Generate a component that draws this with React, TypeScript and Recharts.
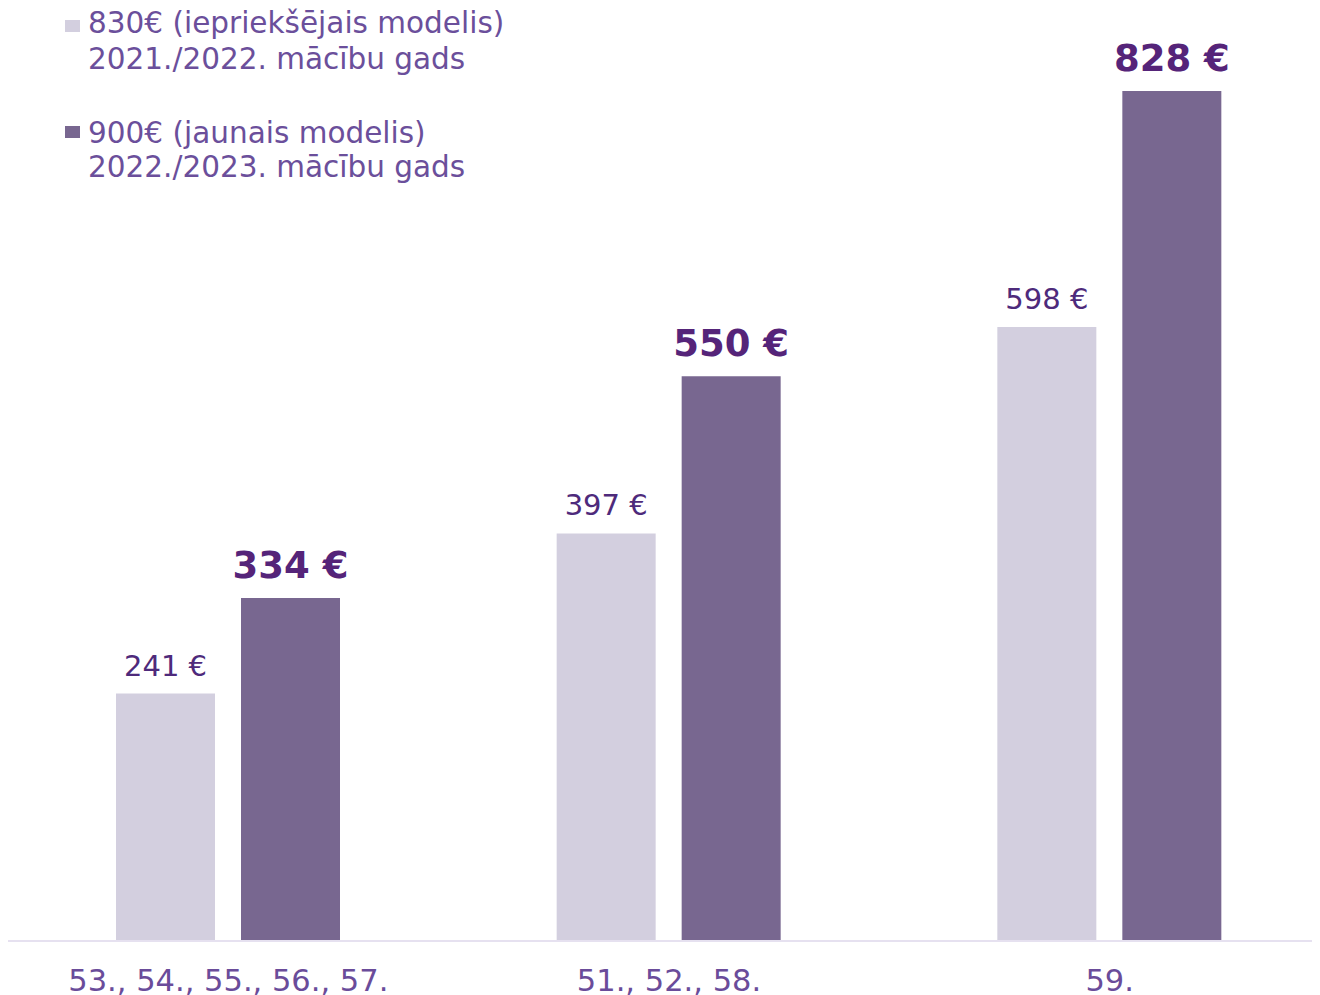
import React from "react";
import { BarChart, Bar, XAxis, YAxis, LabelList, Legend } from "recharts";

const categories = ["53., 54., 55., 56., 57.", "51., 52., 58.", "59."];
const prevModel = [241, 397, 598];
const newModel = [334, 550, 828];
const legendPrev = ["830€ (iepriekšējais modelis)", "2021./2022. mācību gads"];
const legendNew = ["900€ (jaunais modelis)", "2022./2023. mācību gads"];

const data = categories.map((c, i) => ({ name: c, prev: prevModel[i], next: newModel[i] }));

const FONT = "'DejaVu Sans', Verdana, sans-serif";
const LIGHT = "#D3CFDF";
const DARK = "#786790";

const LightLabel = (props: any) => {
  const { x, y, width, value } = props;
  return (
    <text x={x + width / 2} y={y - 18} textAnchor="middle" fontFamily={FONT} fontSize={29} fill="#4E2A7B">
      {value} €
    </text>
  );
};

const DarkLabel = (props: any) => {
  const { x, y, width, value } = props;
  return (
    <text x={x + width / 2} y={y - 20} textAnchor="middle" fontFamily={FONT} fontSize={37} fontWeight="bold" fill="#552479">
      {value} €
    </text>
  );
};

const Tick = (props: any) => {
  const { x, y, payload } = props;
  return (
    <text x={x} y={y + 50} textAnchor="middle" fontFamily={FONT} fontSize={30.5} fill="#6A4C9A">
      {payload.value}
    </text>
  );
};

const LegendContent = () => (
  <svg width={600} height={200} style={{ display: "block" }}>
    <rect x={57} y={12} width={15} height={12} fill={LIGHT} />
    <text x={80} y={25} fontFamily={FONT} fontSize={29.5} fill="#6B4F9B">{legendPrev[0]}</text>
    <text x={80} y={61} fontFamily={FONT} fontSize={29.5} fill="#6B4F9B">{legendPrev[1]}</text>
    <rect x={57} y={118} width={15} height={12} fill={DARK} />
    <text x={80} y={135} fontFamily={FONT} fontSize={29.5} fill="#6B4F9B">{legendNew[0]}</text>
    <text x={80} y={169} fontFamily={FONT} fontSize={29.5} fill="#6B4F9B">{legendNew[1]}</text>
  </svg>
);

export default function App() {
  return (
    <div style={{ width: 1312, height: 987, overflow: "hidden", position: "relative" }}>
      <BarChart
        width={1322}
        height={987}
        data={data}
        margin={{ top: 9, right: 0, left: 0, bottom: 0 }}
        barSize={99}
        barGap={26}
      >
        <XAxis
          dataKey="name"
          height={54}
          tickLine={false}
          tickSize={0}
          tickMargin={0}
          tick={<Tick />}
          axisLine={{ stroke: "#E6E1F0", strokeWidth: 2 }}
          interval={0}
        />
        <YAxis hide domain={[0, 900]} />
        <Legend
          layout="vertical"
          align="center"
          verticalAlign="middle"
          content={<LegendContent />}
          wrapperStyle={{ top: 0, left: 0, width: 600, height: 200 }}
        />
        <Bar dataKey="prev" fill={LIGHT} isAnimationActive={false}>
          <LabelList dataKey="prev" content={<LightLabel />} />
        </Bar>
        <Bar dataKey="next" fill={DARK} isAnimationActive={false}>
          <LabelList dataKey="next" content={<DarkLabel />} />
        </Bar>
      </BarChart>
    </div>
  );
}
